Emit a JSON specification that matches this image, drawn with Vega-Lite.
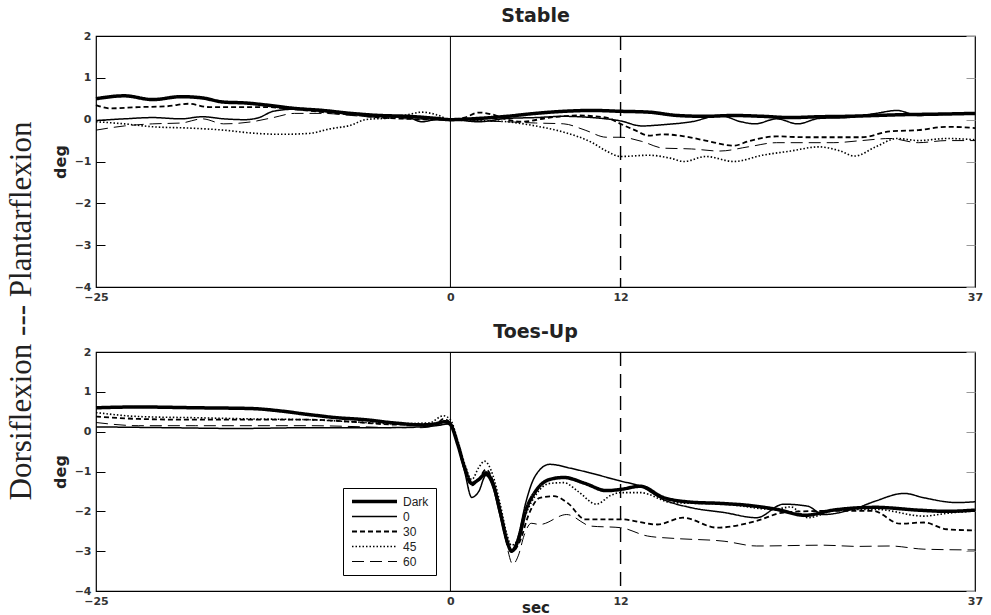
{
"$schema": "https://vega.github.io/schema/vega-lite/v6.json",
"background": "white",
"padding": {"left": 5, "top": 6, "right": 4, "bottom": 0},
"title": {"text": "Dorsiflexion --- Plantarflexion", "orient": "left", "anchor": "middle", "font": "Liberation Serif", "fontSize": 31, "fontWeight": "normal", "color": "#222", "offset": 14},
"config": {
  "view": {"stroke": "black", "strokeWidth": 1.2},
  "axis": {"grid": false, "domain": false, "labelFont": "DejaVu Sans", "labelFontWeight": "bold", "labelFontSize": 11, "labelColor": "#333", "titleFont": "DejaVu Sans", "titleFontSize": 16, "titleFontWeight": "bold", "titleColor": "#222"},
  "title": {"font": "DejaVu Sans", "fontSize": 19, "fontWeight": "bold", "color": "#222", "offset": 0},
  "concat": {"spacing": 19}
},
"datasets": {
"curves": [
{"p":"S","c":"Dark","t":-25,"v":0.5},{"p":"S","c":"Dark","t":-23,"v":0.57},{"p":"S","c":"Dark","t":-21,"v":0.48},{"p":"S","c":"Dark","t":-19,"v":0.55},{"p":"S","c":"Dark","t":-17.5,"v":0.52},{"p":"S","c":"Dark","t":-16,"v":0.42},{"p":"S","c":"Dark","t":-14.5,"v":0.4},{"p":"S","c":"Dark","t":-13,"v":0.35},{"p":"S","c":"Dark","t":-11,"v":0.27},{"p":"S","c":"Dark","t":-9,"v":0.22},{"p":"S","c":"Dark","t":-7,"v":0.15},{"p":"S","c":"Dark","t":-5,"v":0.1},{"p":"S","c":"Dark","t":-3,"v":0.08},{"p":"S","c":"Dark","t":-1,"v":0.03},{"p":"S","c":"Dark","t":0,"v":0},{"p":"S","c":"Dark","t":2,"v":0.03},{"p":"S","c":"Dark","t":4,"v":0.08},{"p":"S","c":"Dark","t":6,"v":0.15},{"p":"S","c":"Dark","t":8,"v":0.2},{"p":"S","c":"Dark","t":10,"v":0.22},{"p":"S","c":"Dark","t":12,"v":0.2},{"p":"S","c":"Dark","t":14,"v":0.18},{"p":"S","c":"Dark","t":16,"v":0.1},{"p":"S","c":"Dark","t":18,"v":0.08},{"p":"S","c":"Dark","t":20,"v":0.1},{"p":"S","c":"Dark","t":22,"v":0.08},{"p":"S","c":"Dark","t":24,"v":0.05},{"p":"S","c":"Dark","t":26,"v":0.07},{"p":"S","c":"Dark","t":28,"v":0.08},{"p":"S","c":"Dark","t":30,"v":0.1},{"p":"S","c":"Dark","t":32,"v":0.12},{"p":"S","c":"Dark","t":34,"v":0.13},{"p":"S","c":"Dark","t":37,"v":0.15},
{"p":"S","c":"0","t":-25,"v":-0.02},{"p":"S","c":"0","t":-23,"v":0.02},{"p":"S","c":"0","t":-21,"v":0.05},{"p":"S","c":"0","t":-19,"v":0.02},{"p":"S","c":"0","t":-17.5,"v":0.07},{"p":"S","c":"0","t":-16,"v":0.02},{"p":"S","c":"0","t":-14.5,"v":0.0},{"p":"S","c":"0","t":-13.5,"v":0.05},{"p":"S","c":"0","t":-12.5,"v":0.2},{"p":"S","c":"0","t":-11,"v":0.25},{"p":"S","c":"0","t":-9,"v":0.2},{"p":"S","c":"0","t":-7,"v":0.13},{"p":"S","c":"0","t":-5,"v":0.08},{"p":"S","c":"0","t":-3,"v":0.05},{"p":"S","c":"0","t":-2,"v":-0.05},{"p":"S","c":"0","t":-1,"v":0.0},{"p":"S","c":"0","t":0,"v":0},{"p":"S","c":"0","t":2,"v":-0.05},{"p":"S","c":"0","t":4,"v":0.03},{"p":"S","c":"0","t":6,"v":0.05},{"p":"S","c":"0","t":8,"v":0.08},{"p":"S","c":"0","t":10,"v":0.05},{"p":"S","c":"0","t":12,"v":-0.03},{"p":"S","c":"0","t":13.5,"v":-0.15},{"p":"S","c":"0","t":15,"v":-0.12},{"p":"S","c":"0","t":17,"v":-0.05},{"p":"S","c":"0","t":19,"v":0.1},{"p":"S","c":"0","t":20.5,"v":-0.05},{"p":"S","c":"0","t":21.5,"v":-0.1},{"p":"S","c":"0","t":23,"v":0.02},{"p":"S","c":"0","t":24.5,"v":-0.1},{"p":"S","c":"0","t":26,"v":0.03},{"p":"S","c":"0","t":28,"v":0.05},{"p":"S","c":"0","t":30,"v":0.15},{"p":"S","c":"0","t":31.5,"v":0.22},{"p":"S","c":"0","t":33,"v":0.1},{"p":"S","c":"0","t":35,"v":0.13},{"p":"S","c":"0","t":37,"v":0.15},
{"p":"S","c":"30","t":-25,"v":0.35},{"p":"S","c":"30","t":-24,"v":0.27},{"p":"S","c":"30","t":-22,"v":0.3},{"p":"S","c":"30","t":-20,"v":0.32},{"p":"S","c":"30","t":-18.5,"v":0.38},{"p":"S","c":"30","t":-17,"v":0.3},{"p":"S","c":"30","t":-15,"v":0.3},{"p":"S","c":"30","t":-13,"v":0.3},{"p":"S","c":"30","t":-11,"v":0.25},{"p":"S","c":"30","t":-9,"v":0.18},{"p":"S","c":"30","t":-7,"v":0.12},{"p":"S","c":"30","t":-5,"v":0.05},{"p":"S","c":"30","t":-3,"v":0.02},{"p":"S","c":"30","t":-1,"v":0.0},{"p":"S","c":"30","t":0,"v":0},{"p":"S","c":"30","t":1,"v":0.05},{"p":"S","c":"30","t":2,"v":0.17},{"p":"S","c":"30","t":3,"v":0.12},{"p":"S","c":"30","t":4,"v":0.0},{"p":"S","c":"30","t":5,"v":-0.05},{"p":"S","c":"30","t":7,"v":0.05},{"p":"S","c":"30","t":9,"v":0.1},{"p":"S","c":"30","t":11,"v":0.05},{"p":"S","c":"30","t":12,"v":-0.1},{"p":"S","c":"30","t":13,"v":-0.25},{"p":"S","c":"30","t":14,"v":-0.38},{"p":"S","c":"30","t":15,"v":-0.35},{"p":"S","c":"30","t":16.5,"v":-0.4},{"p":"S","c":"30","t":18,"v":-0.5},{"p":"S","c":"30","t":20,"v":-0.62},{"p":"S","c":"30","t":21,"v":-0.52},{"p":"S","c":"30","t":23,"v":-0.4},{"p":"S","c":"30","t":25,"v":-0.42},{"p":"S","c":"30","t":27,"v":-0.42},{"p":"S","c":"30","t":29,"v":-0.42},{"p":"S","c":"30","t":31,"v":-0.28},{"p":"S","c":"30","t":33,"v":-0.25},{"p":"S","c":"30","t":35,"v":-0.17},{"p":"S","c":"30","t":37,"v":-0.2},
{"p":"S","c":"45","t":-25,"v":-0.05},{"p":"S","c":"45","t":-23,"v":-0.1},{"p":"S","c":"45","t":-21,"v":-0.17},{"p":"S","c":"45","t":-18.5,"v":-0.2},{"p":"S","c":"45","t":-16,"v":-0.25},{"p":"S","c":"45","t":-14,"v":-0.32},{"p":"S","c":"45","t":-12,"v":-0.35},{"p":"S","c":"45","t":-10,"v":-0.33},{"p":"S","c":"45","t":-8.5,"v":-0.22},{"p":"S","c":"45","t":-7,"v":-0.13},{"p":"S","c":"45","t":-6,"v":0.0},{"p":"S","c":"45","t":-4,"v":0.05},{"p":"S","c":"45","t":-3,"v":0.12},{"p":"S","c":"45","t":-2,"v":0.18},{"p":"S","c":"45","t":-1,"v":0.12},{"p":"S","c":"45","t":0,"v":0},{"p":"S","c":"45","t":2,"v":-0.02},{"p":"S","c":"45","t":4,"v":-0.05},{"p":"S","c":"45","t":6,"v":-0.15},{"p":"S","c":"45","t":8,"v":-0.3},{"p":"S","c":"45","t":10,"v":-0.55},{"p":"S","c":"45","t":11,"v":-0.75},{"p":"S","c":"45","t":12,"v":-0.88},{"p":"S","c":"45","t":14,"v":-0.85},{"p":"S","c":"45","t":15.5,"v":-0.92},{"p":"S","c":"45","t":16.5,"v":-1.0},{"p":"S","c":"45","t":18,"v":-0.88},{"p":"S","c":"45","t":20,"v":-1.0},{"p":"S","c":"45","t":22,"v":-0.85},{"p":"S","c":"45","t":24,"v":-0.75},{"p":"S","c":"45","t":26,"v":-0.65},{"p":"S","c":"45","t":27.5,"v":-0.75},{"p":"S","c":"45","t":28.5,"v":-0.87},{"p":"S","c":"45","t":30,"v":-0.65},{"p":"S","c":"45","t":31.5,"v":-0.45},{"p":"S","c":"45","t":33,"v":-0.5},{"p":"S","c":"45","t":35,"v":-0.45},{"p":"S","c":"45","t":37,"v":-0.48},
{"p":"S","c":"60","t":-25,"v":-0.25},{"p":"S","c":"60","t":-23,"v":-0.15},{"p":"S","c":"60","t":-21,"v":-0.1},{"p":"S","c":"60","t":-19,"v":-0.08},{"p":"S","c":"60","t":-17.5,"v":0.02},{"p":"S","c":"60","t":-16,"v":-0.1},{"p":"S","c":"60","t":-14,"v":-0.05},{"p":"S","c":"60","t":-12.5,"v":0.05},{"p":"S","c":"60","t":-11,"v":0.15},{"p":"S","c":"60","t":-9,"v":0.15},{"p":"S","c":"60","t":-7,"v":0.1},{"p":"S","c":"60","t":-5,"v":0.05},{"p":"S","c":"60","t":-3,"v":0.02},{"p":"S","c":"60","t":0,"v":0},{"p":"S","c":"60","t":2,"v":-0.03},{"p":"S","c":"60","t":4,"v":-0.05},{"p":"S","c":"60","t":6,"v":-0.08},{"p":"S","c":"60","t":8,"v":-0.1},{"p":"S","c":"60","t":9.5,"v":-0.25},{"p":"S","c":"60","t":11,"v":-0.42},{"p":"S","c":"60","t":12,"v":-0.42},{"p":"S","c":"60","t":13.5,"v":-0.52},{"p":"S","c":"60","t":15,"v":-0.68},{"p":"S","c":"60","t":17,"v":-0.7},{"p":"S","c":"60","t":19,"v":-0.75},{"p":"S","c":"60","t":21,"v":-0.65},{"p":"S","c":"60","t":23,"v":-0.55},{"p":"S","c":"60","t":25,"v":-0.55},{"p":"S","c":"60","t":27,"v":-0.55},{"p":"S","c":"60","t":29,"v":-0.5},{"p":"S","c":"60","t":31,"v":-0.45},{"p":"S","c":"60","t":33,"v":-0.55},{"p":"S","c":"60","t":35,"v":-0.5},{"p":"S","c":"60","t":37,"v":-0.5},
{"p":"T","c":"Dark","t":-25,"v":0.6},{"p":"T","c":"Dark","t":-22,"v":0.62},{"p":"T","c":"Dark","t":-18,"v":0.6},{"p":"T","c":"Dark","t":-14,"v":0.58},{"p":"T","c":"Dark","t":-12,"v":0.52},{"p":"T","c":"Dark","t":-10,"v":0.43},{"p":"T","c":"Dark","t":-8,"v":0.35},{"p":"T","c":"Dark","t":-6,"v":0.3},{"p":"T","c":"Dark","t":-4,"v":0.22},{"p":"T","c":"Dark","t":-2,"v":0.17},{"p":"T","c":"Dark","t":-1,"v":0.2},{"p":"T","c":"Dark","t":-0.4,"v":0.25},{"p":"T","c":"Dark","t":0,"v":0.18},{"p":"T","c":"Dark","t":0.5,"v":-0.3},{"p":"T","c":"Dark","t":1,"v":-0.9},{"p":"T","c":"Dark","t":1.5,"v":-1.3},{"p":"T","c":"Dark","t":2,"v":-1.2},{"p":"T","c":"Dark","t":2.5,"v":-1.05},{"p":"T","c":"Dark","t":3,"v":-1.3},{"p":"T","c":"Dark","t":3.5,"v":-2.0},{"p":"T","c":"Dark","t":4,"v":-2.75},{"p":"T","c":"Dark","t":4.3,"v":-3.0},{"p":"T","c":"Dark","t":4.8,"v":-2.7},{"p":"T","c":"Dark","t":5.3,"v":-2.0},{"p":"T","c":"Dark","t":6,"v":-1.5},{"p":"T","c":"Dark","t":7,"v":-1.2},{"p":"T","c":"Dark","t":8,"v":-1.15},{"p":"T","c":"Dark","t":9.5,"v":-1.3},{"p":"T","c":"Dark","t":11,"v":-1.48},{"p":"T","c":"Dark","t":12,"v":-1.45},{"p":"T","c":"Dark","t":13.4,"v":-1.37},{"p":"T","c":"Dark","t":15,"v":-1.65},{"p":"T","c":"Dark","t":17,"v":-1.77},{"p":"T","c":"Dark","t":19,"v":-1.8},{"p":"T","c":"Dark","t":21,"v":-1.85},{"p":"T","c":"Dark","t":23,"v":-1.95},{"p":"T","c":"Dark","t":25,"v":-2.1},{"p":"T","c":"Dark","t":27,"v":-1.97},{"p":"T","c":"Dark","t":30,"v":-1.9},{"p":"T","c":"Dark","t":33,"v":-1.97},{"p":"T","c":"Dark","t":35,"v":-2.0},{"p":"T","c":"Dark","t":37,"v":-1.97},
{"p":"T","c":"0","t":-25,"v":0.12},{"p":"T","c":"0","t":-20,"v":0.1},{"p":"T","c":"0","t":-15,"v":0.08},{"p":"T","c":"0","t":-10,"v":0.1},{"p":"T","c":"0","t":-5,"v":0.1},{"p":"T","c":"0","t":-2,"v":0.12},{"p":"T","c":"0","t":-1,"v":0.15},{"p":"T","c":"0","t":0,"v":0.2},{"p":"T","c":"0","t":0.5,"v":-0.3},{"p":"T","c":"0","t":1,"v":-1.0},{"p":"T","c":"0","t":1.5,"v":-1.65},{"p":"T","c":"0","t":2,"v":-1.5},{"p":"T","c":"0","t":2.5,"v":-1.1},{"p":"T","c":"0","t":3,"v":-1.4},{"p":"T","c":"0","t":3.5,"v":-2.1},{"p":"T","c":"0","t":4,"v":-2.8},{"p":"T","c":"0","t":4.3,"v":-3.0},{"p":"T","c":"0","t":4.8,"v":-2.6},{"p":"T","c":"0","t":5.3,"v":-1.8},{"p":"T","c":"0","t":6,"v":-1.1},{"p":"T","c":"0","t":7,"v":-0.82},{"p":"T","c":"0","t":8.5,"v":-0.92},{"p":"T","c":"0","t":10,"v":-1.05},{"p":"T","c":"0","t":12,"v":-1.24},{"p":"T","c":"0","t":13.4,"v":-1.37},{"p":"T","c":"0","t":15,"v":-1.7},{"p":"T","c":"0","t":17,"v":-1.91},{"p":"T","c":"0","t":19.3,"v":-2.03},{"p":"T","c":"0","t":21.6,"v":-2.16},{"p":"T","c":"0","t":23.5,"v":-1.82},{"p":"T","c":"0","t":25.2,"v":-1.87},{"p":"T","c":"0","t":26.3,"v":-2.08},{"p":"T","c":"0","t":28.7,"v":-1.91},{"p":"T","c":"0","t":30,"v":-1.74},{"p":"T","c":"0","t":32,"v":-1.55},{"p":"T","c":"0","t":33.4,"v":-1.66},{"p":"T","c":"0","t":35.7,"v":-1.78},{"p":"T","c":"0","t":37,"v":-1.76},
{"p":"T","c":"30","t":-25,"v":0.38},{"p":"T","c":"30","t":-22,"v":0.32},{"p":"T","c":"30","t":-18,"v":0.3},{"p":"T","c":"30","t":-14,"v":0.3},{"p":"T","c":"30","t":-10,"v":0.3},{"p":"T","c":"30","t":-7,"v":0.25},{"p":"T","c":"30","t":-4,"v":0.18},{"p":"T","c":"30","t":-1,"v":0.2},{"p":"T","c":"30","t":-0.5,"v":0.32},{"p":"T","c":"30","t":0,"v":0.22},{"p":"T","c":"30","t":0.5,"v":-0.3},{"p":"T","c":"30","t":1,"v":-0.95},{"p":"T","c":"30","t":1.5,"v":-1.35},{"p":"T","c":"30","t":2,"v":-1.2},{"p":"T","c":"30","t":2.5,"v":-0.95},{"p":"T","c":"30","t":3,"v":-1.25},{"p":"T","c":"30","t":3.5,"v":-2.0},{"p":"T","c":"30","t":4,"v":-2.75},{"p":"T","c":"30","t":4.4,"v":-3.0},{"p":"T","c":"30","t":4.9,"v":-2.75},{"p":"T","c":"30","t":5.5,"v":-2.1},{"p":"T","c":"30","t":6.3,"v":-1.66},{"p":"T","c":"30","t":7.3,"v":-1.62},{"p":"T","c":"30","t":8.3,"v":-1.8},{"p":"T","c":"30","t":9.5,"v":-2.2},{"p":"T","c":"30","t":12,"v":-2.2},{"p":"T","c":"30","t":14.6,"v":-2.33},{"p":"T","c":"30","t":16.4,"v":-2.16},{"p":"T","c":"30","t":18.8,"v":-2.41},{"p":"T","c":"30","t":21.6,"v":-2.24},{"p":"T","c":"30","t":23.5,"v":-2.03},{"p":"T","c":"30","t":26.3,"v":-1.99},{"p":"T","c":"30","t":29.8,"v":-1.99},{"p":"T","c":"30","t":31.7,"v":-2.31},{"p":"T","c":"30","t":33.4,"v":-2.28},{"p":"T","c":"30","t":35,"v":-2.45},{"p":"T","c":"30","t":37,"v":-2.48},
{"p":"T","c":"45","t":-25,"v":0.48},{"p":"T","c":"45","t":-22,"v":0.38},{"p":"T","c":"45","t":-18,"v":0.35},{"p":"T","c":"45","t":-14,"v":0.32},{"p":"T","c":"45","t":-10,"v":0.3},{"p":"T","c":"45","t":-7,"v":0.25},{"p":"T","c":"45","t":-4,"v":0.2},{"p":"T","c":"45","t":-1.5,"v":0.22},{"p":"T","c":"45","t":-0.5,"v":0.4},{"p":"T","c":"45","t":0,"v":0.3},{"p":"T","c":"45","t":0.5,"v":-0.2},{"p":"T","c":"45","t":1,"v":-0.8},{"p":"T","c":"45","t":1.5,"v":-1.2},{"p":"T","c":"45","t":2,"v":-0.9},{"p":"T","c":"45","t":2.4,"v":-0.74},{"p":"T","c":"45","t":3,"v":-1.1},{"p":"T","c":"45","t":3.5,"v":-1.8},{"p":"T","c":"45","t":4,"v":-2.6},{"p":"T","c":"45","t":4.3,"v":-2.85},{"p":"T","c":"45","t":4.8,"v":-2.7},{"p":"T","c":"45","t":5.3,"v":-2.1},{"p":"T","c":"45","t":6,"v":-1.6},{"p":"T","c":"45","t":7,"v":-1.3},{"p":"T","c":"45","t":8,"v":-1.28},{"p":"T","c":"45","t":9,"v":-1.5},{"p":"T","c":"45","t":10.3,"v":-1.82},{"p":"T","c":"45","t":11.3,"v":-1.6},{"p":"T","c":"45","t":12,"v":-1.53},{"p":"T","c":"45","t":13.4,"v":-1.53},{"p":"T","c":"45","t":15.6,"v":-1.78},{"p":"T","c":"45","t":19.3,"v":-1.82},{"p":"T","c":"45","t":22.8,"v":-1.95},{"p":"T","c":"45","t":24,"v":-1.89},{"p":"T","c":"45","t":25.2,"v":-2.16},{"p":"T","c":"45","t":27.5,"v":-1.95},{"p":"T","c":"45","t":30,"v":-1.95},{"p":"T","c":"45","t":33.4,"v":-2.12},{"p":"T","c":"45","t":35,"v":-2.05},{"p":"T","c":"45","t":37,"v":-1.99},
{"p":"T","c":"60","t":-25,"v":0.23},{"p":"T","c":"60","t":-22,"v":0.15},{"p":"T","c":"60","t":-18,"v":0.15},{"p":"T","c":"60","t":-14,"v":0.15},{"p":"T","c":"60","t":-10,"v":0.15},{"p":"T","c":"60","t":-6,"v":0.12},{"p":"T","c":"60","t":-4,"v":0.1},{"p":"T","c":"60","t":-2,"v":0.1},{"p":"T","c":"60","t":-1,"v":0.15},{"p":"T","c":"60","t":0,"v":0.2},{"p":"T","c":"60","t":0.5,"v":-0.2},{"p":"T","c":"60","t":1,"v":-0.85},{"p":"T","c":"60","t":1.5,"v":-1.3},{"p":"T","c":"60","t":2,"v":-1.2},{"p":"T","c":"60","t":2.5,"v":-1.0},{"p":"T","c":"60","t":3,"v":-1.25},{"p":"T","c":"60","t":3.5,"v":-1.9},{"p":"T","c":"60","t":4,"v":-2.9},{"p":"T","c":"60","t":4.4,"v":-3.33},{"p":"T","c":"60","t":4.8,"v":-3.1},{"p":"T","c":"60","t":5.2,"v":-2.6},{"p":"T","c":"60","t":5.7,"v":-2.3},{"p":"T","c":"60","t":6.3,"v":-2.33},{"p":"T","c":"60","t":8.2,"v":-2.08},{"p":"T","c":"60","t":9.9,"v":-2.37},{"p":"T","c":"60","t":12,"v":-2.41},{"p":"T","c":"60","t":13.9,"v":-2.62},{"p":"T","c":"60","t":15.8,"v":-2.68},{"p":"T","c":"60","t":19.3,"v":-2.75},{"p":"T","c":"60","t":21.6,"v":-2.87},{"p":"T","c":"60","t":26.3,"v":-2.85},{"p":"T","c":"60","t":28.7,"v":-2.88},{"p":"T","c":"60","t":31,"v":-2.87},{"p":"T","c":"60","t":33.4,"v":-2.95},{"p":"T","c":"60","t":37,"v":-2.97}
]
},
"resolve": {"legend": {"strokeDash": "independent", "strokeWidth": "independent"}},
"vconcat": [
{
  "title": "Stable",
  "width": 879, "height": 251,
  "layer": [
    {"data": {"name": "curves"}, "transform": [{"filter": "datum.p === 'S'"}],
     "mark": {"type": "line", "color": "black", "interpolate": "monotone"},
     "encoding": {
       "x": {"field": "t", "type": "quantitative", "scale": {"domain": [-25, 37], "nice": false, "zero": false}, "axis": {"values": [-25, 0, 12, 37], "ticks": false, "labelPadding": 4, "title": null, "labelFlush": false}},
       "y": {"field": "v", "type": "quantitative", "scale": {"domain": [-4, 2], "nice": false, "zero": false}, "axis": {"values": [-4, -3, -2, -1, 0, 1, 2], "tickSize": -9, "tickColor": "black", "labelPadding": 14, "title": "deg", "titlePadding": 6}},
       "strokeDash": {"field": "c", "type": "nominal", "scale": {"domain": ["Dark", "0", "30", "45", "60"], "range": [[1, 0], [1, 0], [5, 3], [1.5, 2], [12, 6]]}, "legend": null},
       "strokeWidth": {"field": "c", "type": "nominal", "scale": {"type": "ordinal", "domain": ["Dark", "0", "30", "45", "60"], "range": [3.5, 1.5, 1.8, 1.6, 1]}, "legend": null}
     }},
    {"data": {"values": [{"t": 0}]}, "mark": {"type": "rule", "color": "black", "strokeWidth": 1}, "encoding": {"x": {"field": "t", "type": "quantitative"}}},
    {"data": {"values": [{"t": 12}]}, "mark": {"type": "rule", "color": "black", "strokeWidth": 1.4, "strokeDash": [14, 8]}, "encoding": {"x": {"field": "t", "type": "quantitative"}}},
    {"data": {"values": [{"v": -4}, {"v": 2}]}, "mark": {"type": "point", "opacity": 0}, "encoding": {"y": {"field": "v", "type": "quantitative", "axis": {"orient": "right", "labels": false, "values": [-4, -3, -2, -1, 0, 1, 2], "tickSize": -9, "tickColor": "#999", "title": null}}}}
  ],
  "resolve": {"axis": {"y": "independent"}}
},
{
  "title": "Toes-Up",
  "width": 879, "height": 239,
  "layer": [
    {"data": {"name": "curves"}, "transform": [{"filter": "datum.p === 'T'"}],
     "mark": {"type": "line", "color": "black", "interpolate": "monotone"},
     "encoding": {
       "x": {"field": "t", "type": "quantitative", "scale": {"domain": [-25, 37], "nice": false, "zero": false}, "axis": {"values": [-25, 0, 12, 37], "ticks": false, "labelPadding": 4, "title": "sec", "titleFontSize": 15, "titlePadding": -6, "labelFlush": false}},
       "y": {"field": "v", "type": "quantitative", "scale": {"domain": [-4, 2], "nice": false, "zero": false}, "axis": {"values": [-4, -3, -2, -1, 0, 1, 2], "tickSize": -9, "tickColor": "black", "labelPadding": 14, "title": "deg", "titlePadding": 6}},
       "strokeDash": {"field": "c", "type": "nominal", "scale": {"domain": ["Dark", "0", "30", "45", "60"], "range": [[1, 0], [1, 0], [5, 3], [1.5, 2], [12, 6]]},
         "legend": {"orient": "none", "legendX": 247, "legendY": 136, "title": null, "symbolType": "stroke", "symbolSize": 2025, "clipHeight": 13, "rowPadding": 2, "strokeColor": "black", "fillColor": "white", "padding": 7, "labelFont": "Liberation Sans", "labelFontSize": 12, "labelColor": "#222", "labelOffset": 4, "symbolStrokeColor": "black"}},
       "strokeWidth": {"field": "c", "type": "nominal", "scale": {"type": "ordinal", "domain": ["Dark", "0", "30", "45", "60"], "range": [3.5, 1.5, 1.8, 1.6, 1]},
         "legend": {"orient": "none", "legendX": 247, "legendY": 136, "title": null, "symbolType": "stroke", "symbolSize": 2025, "clipHeight": 13, "rowPadding": 2, "strokeColor": "black", "fillColor": "white", "padding": 7, "labelFont": "Liberation Sans", "labelFontSize": 12, "labelColor": "#222", "labelOffset": 4, "symbolStrokeColor": "black"}}
     }},
    {"data": {"values": [{"t": 0}]}, "mark": {"type": "rule", "color": "black", "strokeWidth": 1}, "encoding": {"x": {"field": "t", "type": "quantitative"}}},
    {"data": {"values": [{"t": 12}]}, "mark": {"type": "rule", "color": "black", "strokeWidth": 1.4, "strokeDash": [14, 8]}, "encoding": {"x": {"field": "t", "type": "quantitative"}}},
    {"data": {"values": [{"v": -4}, {"v": 2}]}, "mark": {"type": "point", "opacity": 0}, "encoding": {"y": {"field": "v", "type": "quantitative", "axis": {"orient": "right", "labels": false, "values": [-4, -3, -2, -1, 0, 1, 2], "tickSize": -9, "tickColor": "#999", "title": null}}}}
  ],
  "resolve": {"axis": {"y": "independent"}}
}
]
}
